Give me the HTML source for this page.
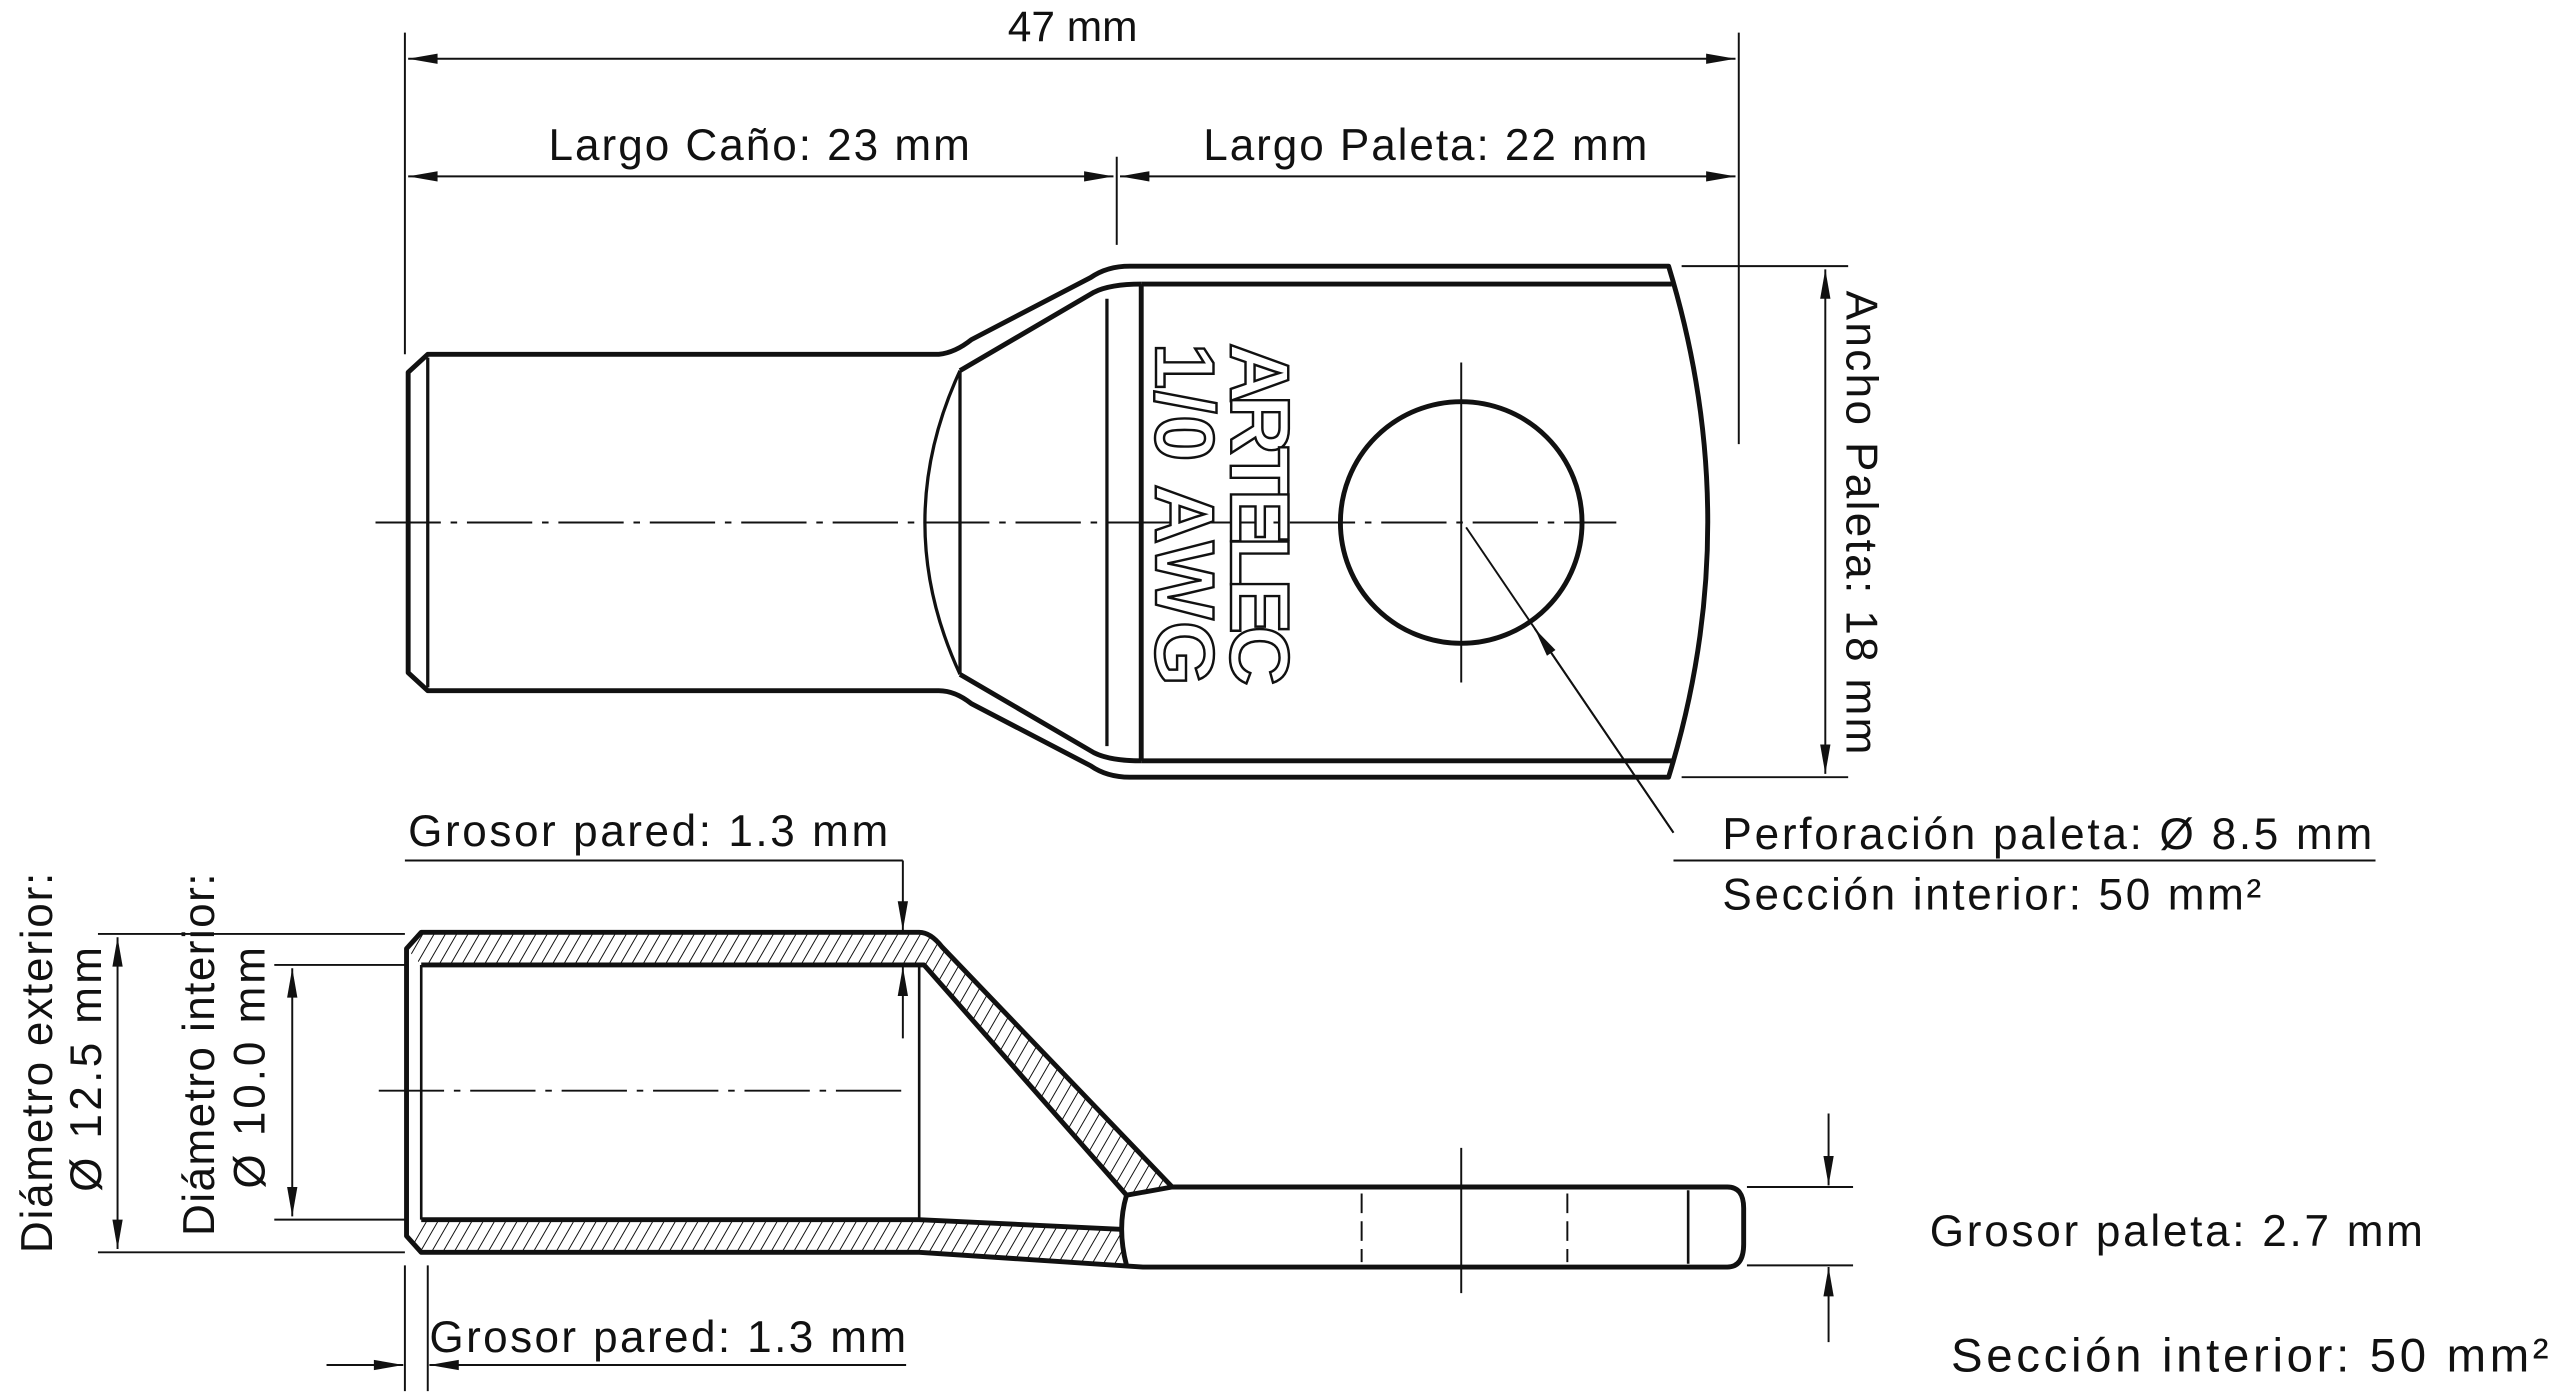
<!DOCTYPE html>
<html><head><meta charset="utf-8"><style>
html,body{margin:0;padding:0;background:#fff;}
svg{display:block;}
text{font-family:"Liberation Sans",Arial,sans-serif;fill:#111;}
</style></head><body>
<svg width="2560" height="1396" viewBox="0 0 1568 855" preserveAspectRatio="none" xmlns="http://www.w3.org/2000/svg">
<defs>
<pattern id="h" patternUnits="userSpaceOnUse" width="6" height="6" patternTransform="rotate(30)">
<rect width="6" height="6" fill="#fff"/><line x1="0" y1="0" x2="0" y2="6" stroke="#111" stroke-width="1.2"/>
</pattern>
<marker id="b" viewBox="0 0 20 10" refX="20" refY="5" markerWidth="22" markerHeight="9" markerUnits="userSpaceOnUse" orient="auto-start-reverse">
<path d="M0,1.5 L20,5 L0,8.5 z" fill="#111"/>
</marker>
</defs>

<!-- ===== TOP DIMENSIONS ===== -->
<g stroke="#111" stroke-width="1.2" fill="none">
<line x1="248" y1="20" x2="248" y2="217"/>
<line x1="1065" y1="20" x2="1065" y2="272"/>
<line x1="684" y1="96" x2="684" y2="150"/>
<line x1="250" y1="36" x2="1063" y2="36" marker-start="url(#b)" marker-end="url(#b)"/>
<line x1="250" y1="108" x2="682" y2="108" marker-start="url(#b)" marker-end="url(#b)"/>
<line x1="686" y1="108" x2="1063" y2="108" marker-start="url(#b)" marker-end="url(#b)"/>
<line x1="1030" y1="163" x2="1132" y2="163"/>
<line x1="1030" y1="476" x2="1132" y2="476"/>
<line x1="1118" y1="165" x2="1118" y2="474" marker-start="url(#b)" marker-end="url(#b)"/>
</g>
<text x="657" y="25" font-size="26" text-anchor="middle">47 mm</text>
<text x="465" y="98" font-size="27" text-anchor="middle" textLength="258">Largo Caño: 23 mm</text>
<text x="873" y="98" font-size="27" text-anchor="middle" textLength="272">Largo Paleta: 22 mm</text>
<text transform="translate(1131,320) rotate(90)" font-size="27" text-anchor="middle" textLength="284">Ancho Paleta: 18 mm</text>

<!-- ===== TOP VIEW ===== -->
<g stroke="#111" stroke-width="3" fill="none" stroke-linejoin="round">
<path d="M262,217 L575,217 Q585,216 595,208 L668,170 Q678,163 692,163 L1022,163 Q1070,320 1022,476 L692,476 Q678,476 668,469 L595,431 Q585,423 575,423 L262,423 L250,412 L250,228 Z"/>
<line x1="699" y1="174" x2="1024" y2="174"/>
<line x1="699" y1="466" x2="1024" y2="466"/>
<path d="M588,227 L670,179 Q680,174 699,174"/>
<path d="M588,413 L670,461 Q680,466 699,466"/>
<line x1="699" y1="174" x2="699" y2="466"/>
<circle cx="895" cy="320" r="74"/>
</g>
<g stroke="#111" stroke-width="2" fill="none">
<line x1="262" y1="219" x2="262" y2="421"/>
<path d="M588,227 Q545,320 588,413"/>
<line x1="588" y1="227" x2="588" y2="413"/>
<line x1="678" y1="183" x2="678" y2="457"/>
</g>
<g stroke="#111" stroke-width="1.2" fill="none">
<line x1="230" y1="320" x2="990" y2="320" stroke-dasharray="40,6,4,6"/>
<line x1="895" y1="222" x2="895" y2="418"/>
<line x1="1025" y1="510" x2="898" y2="323"/>
<line x1="1025" y1="510" x2="940" y2="385" marker-end="url(#b)"/>
<line x1="1025" y1="527" x2="1455" y2="527"/>
</g>
<g font-size="51" font-weight="bold" fill="#fff" stroke="#111" stroke-width="1.5" text-anchor="middle">
<text transform="translate(754,315) rotate(90)" textLength="210" style="fill:#fff">ARTELEC</text>
<text transform="translate(708,315) rotate(90)" textLength="210" style="fill:#fff">1/0 AWG</text>
</g>
<text x="1055" y="520" font-size="27" textLength="398">Perforación paleta: Ø 8.5 mm</text>
<text x="1055" y="557" font-size="27" textLength="330">Sección interior: 50 mm²</text>

<!-- ===== SIDE VIEW ===== -->
<path d="M250,580 L258,571 L563,571 Q570,571 577,580 L718,727 L690,732 L566,591 L258,591 L250,582 Z" fill="url(#h)" stroke="none"/>
<path d="M250,758 L258,747 L563,747 L688,753 L690,775 L563,767 L258,767 L250,758 Z" fill="url(#h)" stroke="none"/>
<g stroke="#111" stroke-width="3" fill="none" stroke-linejoin="round">
<path d="M563,571 L258,571 L249,581 L249,757 L258,767 L563,767 L700,776 L1058,776 Q1068,776 1068,762 L1068,740 Q1068,727 1058,727 L718,727 L577,580 Q570,571 563,571"/>
<path d="M258,591 L566,591 L690,732"/>
<path d="M258,747 L563,747 L688,753"/>
<path d="M690,732 Q684,752 690,775"/>
<line x1="690" y1="732" x2="718" y2="727"/>
</g>
<g stroke="#111" stroke-width="1.6" fill="none">
<line x1="258" y1="591" x2="258" y2="747"/>
<line x1="563" y1="591" x2="563" y2="747"/>
<line x1="1034" y1="729" x2="1034" y2="774"/>
</g>
<g stroke="#111" stroke-width="1.2" fill="none">
<line x1="232" y1="668" x2="557" y2="668" stroke-dasharray="40,6,4,6"/>
<line x1="834" y1="731" x2="834" y2="773" stroke-dasharray="12,5"/>
<line x1="960" y1="731" x2="960" y2="773" stroke-dasharray="12,5"/>
<line x1="895" y1="703" x2="895" y2="792"/>
<line x1="248" y1="527" x2="553" y2="527"/>
<line x1="553" y1="527" x2="553" y2="570" marker-end="url(#b)"/>
<line x1="553" y1="636" x2="553" y2="592" marker-end="url(#b)"/>
<line x1="60" y1="572" x2="248" y2="572"/>
<line x1="60" y1="767" x2="248" y2="767"/>
<line x1="72" y1="574" x2="72" y2="765" marker-start="url(#b)" marker-end="url(#b)"/>
<line x1="168" y1="591" x2="248" y2="591"/>
<line x1="168" y1="747" x2="248" y2="747"/>
<line x1="179" y1="593" x2="179" y2="745" marker-start="url(#b)" marker-end="url(#b)"/>
<line x1="248" y1="775" x2="248" y2="852"/>
<line x1="262" y1="775" x2="262" y2="852"/>
<line x1="200" y1="836" x2="247" y2="836" marker-end="url(#b)"/>
<line x1="555" y1="836" x2="263" y2="836" marker-end="url(#b)"/>
<line x1="1070" y1="727" x2="1135" y2="727"/>
<line x1="1070" y1="775" x2="1135" y2="775"/>
<line x1="1120" y1="682" x2="1120" y2="726" marker-end="url(#b)"/>
<line x1="1120" y1="822" x2="1120" y2="776" marker-end="url(#b)"/>
</g>
<text x="250" y="518" font-size="27" textLength="294">Grosor pared: 1.3 mm</text>
<text x="263" y="828" font-size="27" textLength="292">Grosor pared: 1.3 mm</text>
<text x="1182" y="763" font-size="27" textLength="302">Grosor paleta: 2.7 mm</text>
<text x="1195" y="840" font-size="29" textLength="366">Sección interior: 50 mm²</text>
<text transform="translate(32,651) rotate(-90)" font-size="27" text-anchor="middle" textLength="233">Diámetro exterior:</text>
<text transform="translate(62,655) rotate(-90)" font-size="27" text-anchor="middle" textLength="150">Ø 12.5 mm</text>
<text transform="translate(131,646) rotate(-90)" font-size="27" text-anchor="middle" textLength="222">Diámetro interior:</text>
<text transform="translate(162,654) rotate(-90)" font-size="27" text-anchor="middle" textLength="148">Ø 10.0 mm</text>
</svg>
</body></html>
